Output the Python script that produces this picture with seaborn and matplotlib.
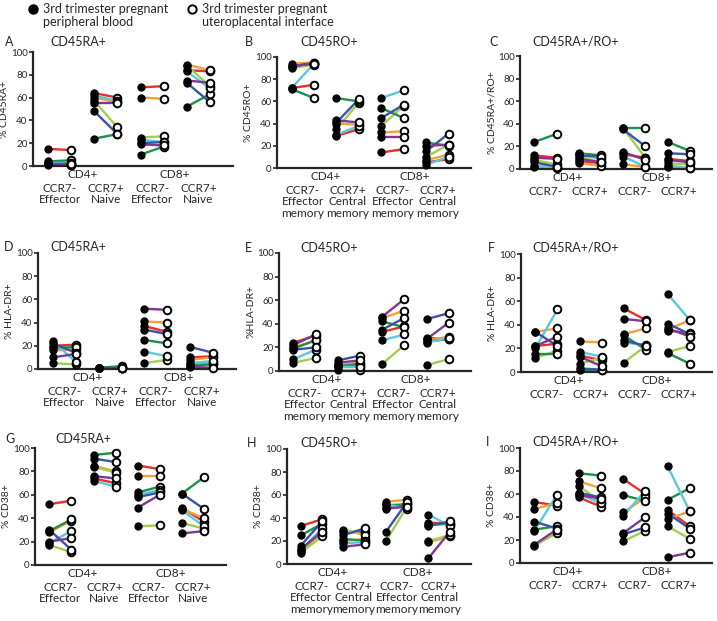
import matplotlib
matplotlib.use("Agg")
import matplotlib.pyplot as plt
from matplotlib.lines import Line2D
import seaborn as sns
import pandas as pd

# donors, each keeps the same colour in every panel
donors = ["red", "orange", "lightgreen", "green", "cyan", "blue", "purple"]
donor_colors = ["#e4312b", "#f6a03a", "#a4cc4e", "#1b9248", "#5cc6df", "#3a53a4", "#7d3795"]

# rows: CD4 CCR7-, CD4 CCR7+, CD8 CCR7-, CD8 CCR7+ ; columns follow `donors`
# pb = peripheral blood, ui = uteroplacental interface
A_pb = [[15, 2, 3, 4, 3, 1, 2], [64, 60, 57, 24, 62, 48, 55], [69, 60, 25, 10, 23, 20, 19], [84, 89, 88, 52, 83, 73, 75]]
A_ui = [[14, 1, 1, 5, 3, 2, 2], [60, 56, 34, 28, 57, 28, 55], [70, 59, 26, 17, 21, 21, 18], [83, 84, 70, 63, 68, 56, 73]]
B_pb = [[72, 94, 90, 71, 72, 91, 92], [29, 40, 35, 63, 30, 41, 43], [14, 32, 38, 54, 63, 45, 28], [5, 7, 10, 23, 3, 15, 20]]
B_ui = [[75, 95, 93, 63, 94, 95, 94], [35, 39, 59, 60, 38, 62, 41], [17, 33, 56, 45, 70, 57, 28], [8, 12, 21, 20, 10, 31, 21]]
C_pb = [[12, 3, 8, 24, 2, 6, 10], [7, 5, 11, 14, 13, 12, 9], [13, 4, 36, 36, 11, 35, 15], [9, 3, 5, 24, 2, 14, 8]]
C_ui = [[10, 2, 4, 31, 1, 2, 9], [5, 3, 6, 12, 9, 11, 6], [10, 2, 10, 36, 2, 20, 8], [7, 1, 4, 16, 1, 13, 6]]
D_pb = [[20, 16, 5, 18, 24, 22, 10], [1, 0.5, 1, 1, 0.5, 1, 0.5], [37, 41, 5, 25, 15, 34, 52], [10, 8, 4, 3, 5, 19, 2]]
D_ui = [[21, 17, 4, 19, 6, 14, 13], [1, 0.5, 1, 2.5, 1, 1, 0.5], [32, 40, 8, 22, 11, 30, 51], [11, 10, 5, 4, 7, 14, 1]]
E_pb = [[24, 20, 7, 19, 10, 18, 22], [4, 5, 1, 4, 3, 9, 7], [33, 45, 6, 42, 26, 35, 46], [28, 26, 5, 25, 24, 44, 27]]
E_ui = [[30, 26, 11, 26, 18, 20, 31], [4, 7, 1, 6, 3, 13, 9], [38, 51, 22, 37, 31, 45, 61], [27, 29, 10, 27, 28, 49, 41]]
F_pb = [[22, 34, 12, 15, 20, 34, 22], [14, 26, 7, 2, 17, 3, 13], [54, 32, 8, 31, 25, 27, 45], [35, 36, 17, 16, 66, 41, 37]]
F_ui = [[24, 37, 18, 15, 53, 22, 30], [10, 25, 12, 2, 13, 2, 5], [44, 37, 22, 19, 23, 22, 43], [33, 44, 22, 7, 44, 32, 30]]
G_pb = [[52, 28, 17, 29, 19, 30, 20], [74, 85, 84, 94, 72, 91, 76], [85, 76, 33, 62, 60, 58, 49], [49, 48, 36, 61, 47, 61, 27]]
G_ui = [[55, 38, 11, 39, 29, 13, 23], [70, 80, 79, 96, 67, 88, 74], [82, 76, 34, 67, 64, 62, 60], [37, 40, 31, 75, 33, 48, 29]]
H_pb = [[33, 11, 10, 25, 12, 16, 13], [28, 20, 30, 22, 18, 25, 15], [49, 54, 20, 51, 52, 28, 48], [36, 19, 20, 34, 43, 33, 5]]
H_ui = [[39, 27, 24, 35, 31, 37, 28], [28, 22, 25, 20, 19, 31, 17], [52, 56, 50, 52, 48, 54, 50], [35, 24, 25, 35, 33, 37, 28]]
I_pb = [[53, 47, 15, 29, 28, 36, 16], [57, 71, 67, 78, 60, 61, 59], [73, 44, 19, 59, 41, 25, 26], [46, 38, 32, 55, 84, 43, 5]]
I_ui = [[50, 52, 26, 32, 59, 30, 29], [49, 65, 53, 76, 52, 57, 56], [60, 57, 28, 54, 63, 31, 40], [32, 45, 21, 65, 45, 30, 9]]

labels_ra = ["CCR7-\nEffector", "CCR7+\nNaive", "CCR7-\nEffector", "CCR7+\nNaive"]
labels_ro = ["CCR7-\nEffector\nmemory", "CCR7+\nCentral\nmemory", "CCR7-\nEffector\nmemory", "CCR7+\nCentral\nmemory"]
labels_rr = ["CCR7-", "CCR7+", "CCR7-", "CCR7+"]

W, H = 717, 621


def fx(x):
    return x / W


def fy(y):
    return 1 - y / H


sns.set_style("ticks")
plt.rcParams["font.family"] = ["Lato", "DejaVu Sans"]

fig = plt.figure(figsize=(W / 100, H / 100), dpi=100)

# (letter, title, ylabel, pb, ui, labels, axes box px (l, t, r, b), letter xy, title x)
panels = [
    ("A", "CD45RA+", "% CD45RA+", A_pb, A_ui, labels_ra, (33, 52, 233, 166), (5, 42), 50),
    ("B", "CD45RO+", "% CD45RO+", B_pb, B_ui, labels_ro, (277, 57, 471, 168), (245, 42), 300),
    ("C", "CD45RA+/RO+", "% CD45RA+/RO+", C_pb, C_ui, labels_rr, (520, 56, 712, 169), (489, 42), 532),
    ("D", "CD45RA+", "% HLA-DR+", D_pb, D_ui, labels_ra, (38, 253, 236, 369), (4, 247), 50),
    ("E", "CD45RO+", "%HLA-DR+", E_pb, E_ui, labels_ro, (279, 253, 471, 371), (245, 248), 300),
    ("F", "CD45RA+/RO+", "% HLA-DR+", F_pb, F_ui, labels_rr, (521, 254, 712, 372), (488, 248), 532),
    ("G", "CD45RA+", "% CD38+", G_pb, G_ui, labels_ra, (35, 448, 226, 565), (5, 439), 55),
    ("H", "CD45RO+", "% CD38+", H_pb, H_ui, labels_ro, (287, 449, 471, 564), (247, 443), 300),
    ("I", "CD45RA+/RO+", "% CD38+", I_pb, I_ui, labels_rr, (520, 448, 712, 563), (486, 442), 532),
]

pal = dict(zip(donors, donor_colors))

for letter, title, ylab, pb, ui, labels, box, lxy, tx in panels:
    l, t, r, b = box
    ax = fig.add_axes([fx(l), fy(b), fx(r) - fx(l), fy(t) - fy(b)])

    rows = []
    for g in range(4):
        for d, name in enumerate(donors):
            rows.append(dict(donor=name, pair=f"{g}-{d}", x=2 * g, y=pb[g][d], site="pb"))
            rows.append(dict(donor=name, pair=f"{g}-{d}", x=2 * g + 1, y=ui[g][d], site="ui"))
    df = pd.DataFrame(rows)

    sns.lineplot(data=df, x="x", y="y", hue="donor", units="pair", estimator=None,
                 palette=pal, linewidth=1.7, legend=False, ax=ax)
    sns.scatterplot(data=df[df.site == "pb"], x="x", y="y", color="black", s=36,
                    linewidth=0, ax=ax, zorder=3, clip_on=False)
    sns.scatterplot(data=df[df.site == "ui"], x="x", y="y", color="white", edgecolor="black",
                    s=30, linewidth=1.4, ax=ax, zorder=4, clip_on=False)

    ax.set_xlim(-0.65, 8.0)
    ax.set_ylim(0, 100)
    ax.set_yticks(range(0, 101, 20))
    ax.set_xticks([])
    ax.set_xlabel("")
    ax.set_ylabel(ylab, fontsize=7.5, labelpad=1)
    ax.tick_params(axis="y", labelsize=7, length=3, width=1.2, pad=1)
    sns.despine(ax=ax)
    for s in ["left", "bottom"]:
        ax.spines[s].set_linewidth(1.6)

    for xpos, txt in [(1.5, "CD4+"), (5.5, "CD8+")]:
        ax.annotate(txt, xy=(xpos, 0), xycoords=("data", "axes fraction"), xytext=(0, -2),
                    textcoords="offset points", ha="center", va="top", fontsize=8.5)
    for g, txt in enumerate(labels):
        ax.annotate(txt, xy=(2 * g + 0.5, 0), xycoords=("data", "axes fraction"), xytext=(0, -12),
                    textcoords="offset points", ha="center", va="top", fontsize=8.5, linespacing=1.05)

    fig.text(fx(lxy[0]), fy(lxy[1]), letter, fontsize=9, va="center", ha="left")
    fig.text(fx(tx), fy(lxy[1]), title, fontsize=9, va="center", ha="left")

# legend at the top
fig.add_artist(Line2D([fx(33)], [fy(9)], marker="o", color="black", markersize=6.5,
                      linestyle="none", transform=fig.transFigure))
fig.add_artist(Line2D([fx(192)], [fy(9)], marker="o", markerfacecolor="white",
                      markeredgecolor="black", markeredgewidth=1.4, markersize=6,
                      linestyle="none", transform=fig.transFigure))
fig.text(fx(43), fy(3), "3rd trimester pregnant\nperipheral blood", fontsize=9,
         va="top", ha="left", linespacing=1.1)
fig.text(fx(202), fy(3), "3rd trimester pregnant\nuteroplacental interface", fontsize=9,
         va="top", ha="left", linespacing=1.1)

fig.savefig("out.png", dpi=100)
